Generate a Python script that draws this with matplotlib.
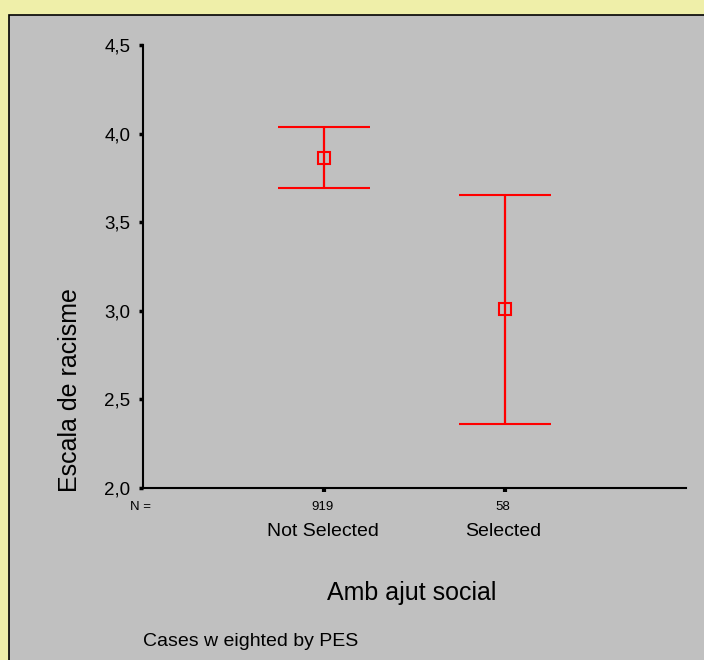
import matplotlib
matplotlib.use('Agg')
import matplotlib.pyplot as plt
from matplotlib.patches import Rectangle

plt.rcParams['font.family'] = ['Liberation Sans', 'DejaVu Sans']

groups = ['Not Selected', 'Selected']
n_labels = ['919', '58']
means = [3.864, 3.008]
upper = [4.039, 3.654]
lower = [3.691, 2.361]
yticks = [2.0, 2.5, 3.0, 3.5, 4.0, 4.5]
ytick_labels = ['2,0', '2,5', '3,0', '3,5', '4,0', '4,5']

W, H = 704, 660
fig = plt.figure(figsize=(W / 100, H / 100), dpi=100)
fig.patch.set_facecolor('#EFEFA9')

def fx(px):
    return px / W

def fy(py):
    return 1 - py / H

# grey panel behind everything
fig.patches.append(Rectangle((fx(9), -0.1), 1.2, fy(15) + 0.1, transform=fig.transFigure,
                             facecolor='#C0C0C0', edgecolor='black', linewidth=1.2, zorder=-5))

ax = fig.add_axes([fx(143), fy(488), fx(686) - fx(143), fy(45) - fy(488)])
ax.set_zorder(2)
ax.set_facecolor('none')

xs = [1, 2]
err_lo = [m - l for m, l in zip(means, lower)]
err_hi = [u - m for m, u in zip(means, upper)]
ax.errorbar(xs, means, yerr=[err_lo, err_hi], fmt='s', color='red', ecolor='red',
            elinewidth=1.6, capsize=33, capthick=1.6, markersize=8,
            markerfacecolor='none', markeredgecolor='red', markeredgewidth=1.5)

ax.set_xlim(0, 3)
ax.set_ylim(2.0, 4.5)
ax.set_yticks(yticks)
ax.set_yticklabels(ytick_labels, fontsize=13.5)
ax.set_xticks(xs)
ax.set_xticklabels([])
for s in ['top', 'right']:
    ax.spines[s].set_visible(False)
for s in ['left', 'bottom']:
    ax.spines[s].set_linewidth(1.5)
ax.tick_params(axis='y', direction='out', length=3, width=2.5, pad=6)
ax.tick_params(axis='x', direction='out', length=3, width=3)

# N row and category labels
fig.text(fx(141), fy(507), 'N =', fontsize=9.5, ha='center', va='center')
cat_px = [323, 503]
for px, n, g in zip(cat_px, n_labels, groups):
    fig.text(fx(px), fy(507), n, fontsize=9.5, ha='center', va='center')
    fig.text(fx(px), fy(532), g, fontsize=14, ha='center', va='center')

fig.text(fx(412), fy(593), 'Amb ajut social', fontsize=18, ha='center', va='center')
fig.text(fx(70), fy(390), 'Escala de racisme', fontsize=18, rotation=90, ha='center', va='center')
fig.text(fx(143), fy(641), 'Cases w eighted by PES', fontsize=14, ha='left', va='center')

fig.savefig('out.png', dpi=100, facecolor=fig.get_facecolor())
